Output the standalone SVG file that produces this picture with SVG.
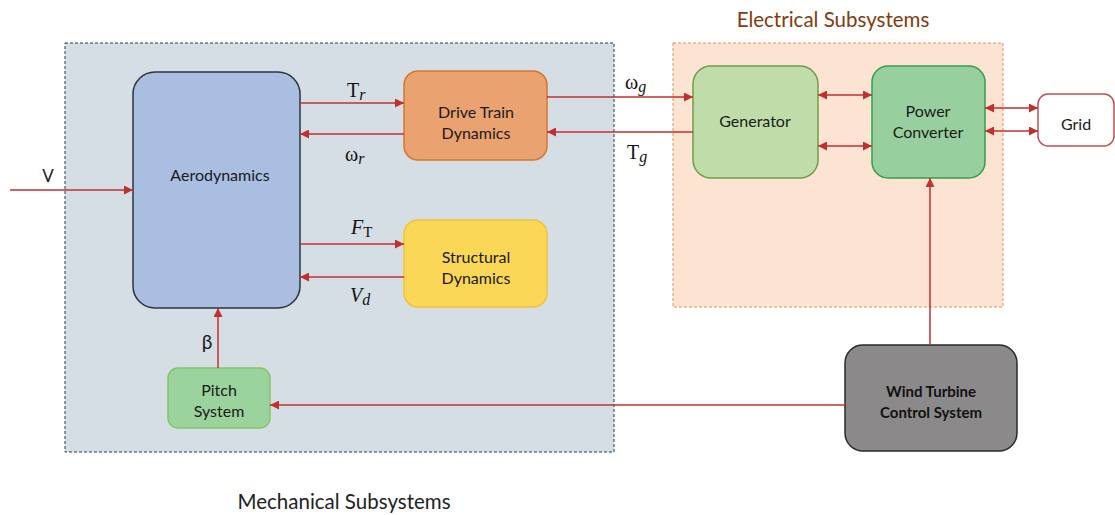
<svg xmlns="http://www.w3.org/2000/svg" width="1115" height="515" viewBox="0 0 1115 515">
<defs>
<marker id="ah" viewBox="0 0 10 10" refX="10" refY="5" markerWidth="9" markerHeight="9" markerUnits="userSpaceOnUse" orient="auto-start-reverse">
<path d="M0,0 L10,5 L0,10 z" fill="#c0302f"/>
</marker>
<style>
.lbl{font-family:Lato,"Open Sans","Liberation Sans",sans-serif;font-size:16px;fill:#1a1a1a;text-anchor:middle}
.math{font-family:"Liberation Serif","DejaVu Serif",serif;font-size:20px;fill:#111}
.it{font-style:italic}
.con{stroke:#c0302f;stroke-width:1.5;fill:none}
.title{font-family:Lato,"Open Sans","Liberation Sans",sans-serif;font-size:20.5px;text-anchor:middle}
</style>
</defs>
<rect width="1115" height="515" fill="#ffffff"/>
<g id="mechanical">
<rect x="65" y="43" width="549" height="409" fill="#d5dde5" stroke="#2a3a4a" stroke-width="1" stroke-dasharray="3,2"/>
<text class="title" x="344" y="509" fill="#222">Mechanical Subsystems</text>
</g>
<g id="electrical">
<rect x="673" y="43" width="330" height="264" fill="#fde3d2" stroke="#e0915a" stroke-width="1" stroke-dasharray="3,2"/>
<text class="title" x="833" y="27" fill="#843c0c">Electrical Subsystems</text>
</g>
<g id="aerodynamics">
<rect x="133" y="72" width="167" height="236" rx="22" fill="#a9bee0" stroke="#2c3440" stroke-width="1.5"/>
<text class="lbl" x="220" y="181">Aerodynamics</text>
</g>
<g id="drivetrain">
<rect x="404" y="71" width="143" height="89" rx="14" fill="#e9a270" stroke="#d4782f" stroke-width="1.5"/>
<text class="lbl" x="476" y="118">Drive Train</text>
<text class="lbl" x="476" y="139">Dynamics</text>
</g>
<g id="structural">
<rect x="404" y="220" width="143" height="87" rx="14" fill="#fbd757" stroke="#f3c23a" stroke-width="1.5"/>
<text class="lbl" x="476" y="263">Structural</text>
<text class="lbl" x="476" y="284">Dynamics</text>
</g>
<g id="generator">
<rect x="693" y="66" width="125" height="112" rx="18" fill="#bfdca9" stroke="#6c9f4c" stroke-width="1.5"/>
<text class="lbl" x="755" y="127">Generator</text>
</g>
<g id="powerconverter">
<rect x="872" y="66" width="113" height="112" rx="16" fill="#98cf9f" stroke="#2ea04f" stroke-width="1.5"/>
<text class="lbl" x="928" y="117">Power</text>
<text class="lbl" x="928" y="138">Converter</text>
</g>
<g id="grid">
<rect x="1038" y="94" width="76" height="52" rx="10" fill="#ffffff" stroke="#c0504d" stroke-width="1.5"/>
<text class="lbl" x="1076" y="130">Grid</text>
</g>
<g id="pitch">
<rect x="168" y="368" width="102" height="60" rx="10" fill="#9bd39c" stroke="#86c467" stroke-width="1.5"/>
<text class="lbl" x="219" y="396">Pitch</text>
<text class="lbl" x="219" y="417">System</text>
</g>
<g id="control">
<rect x="845" y="345" width="172" height="106" rx="18" fill="#8c898a" stroke="#2a2a2a" stroke-width="1.5"/>
<text class="lbl" x="931" y="397" style="font-weight:bold;font-size:15px;fill:#111">Wind Turbine</text>
<text class="lbl" x="931" y="418" style="font-weight:bold;font-size:15px;fill:#111">Control System</text>
</g>
<g id="connectors">
<line class="con" x1="10" y1="190" x2="133" y2="190" marker-end="url(#ah)"/>
<line class="con" x1="300" y1="103" x2="404" y2="103" marker-end="url(#ah)"/>
<line class="con" x1="404" y1="134" x2="300" y2="134" marker-end="url(#ah)"/>
<line class="con" x1="300" y1="244" x2="404" y2="244" marker-end="url(#ah)"/>
<line class="con" x1="404" y1="277" x2="300" y2="277" marker-end="url(#ah)"/>
<line class="con" x1="547" y1="97" x2="693" y2="97" marker-end="url(#ah)"/>
<line class="con" x1="693" y1="132" x2="547" y2="132" marker-end="url(#ah)"/>
<line class="con" x1="818" y1="95" x2="872" y2="95" marker-start="url(#ah)" marker-end="url(#ah)"/>
<line class="con" x1="818" y1="146" x2="872" y2="146" marker-start="url(#ah)" marker-end="url(#ah)"/>
<line class="con" x1="985" y1="108" x2="1038" y2="108" marker-start="url(#ah)" marker-end="url(#ah)"/>
<line class="con" x1="985" y1="131" x2="1038" y2="131" marker-start="url(#ah)" marker-end="url(#ah)"/>
<line class="con" x1="930" y1="345" x2="930" y2="178" marker-end="url(#ah)"/>
<line class="con" x1="845" y1="405" x2="270" y2="405" marker-end="url(#ah)"/>
<line class="con" x1="218" y1="368" x2="218" y2="308" marker-end="url(#ah)"/>
<text class="lbl" x="48" y="182" style="font-size:17px">V</text>
<text class="math" x="347" y="97">T<tspan class="it" font-size="16" dy="3">r</tspan></text>
<text class="math" x="345" y="161">ω<tspan class="it" font-size="16" dy="3">r</tspan></text>
<text class="math it" x="351" y="234">F<tspan font-size="15" font-style="normal" dy="3">T</tspan></text>
<text class="math it" x="350" y="302">V<tspan font-size="16" dy="3">d</tspan></text>
<text class="math" x="625" y="89">ω<tspan class="it" font-size="16" dy="3">g</tspan></text>
<text class="math" x="627" y="159">T<tspan class="it" font-size="16" dy="3">g</tspan></text>
<text class="lbl" x="207" y="349" style="font-size:19px">β</text>
</g>
</svg>
